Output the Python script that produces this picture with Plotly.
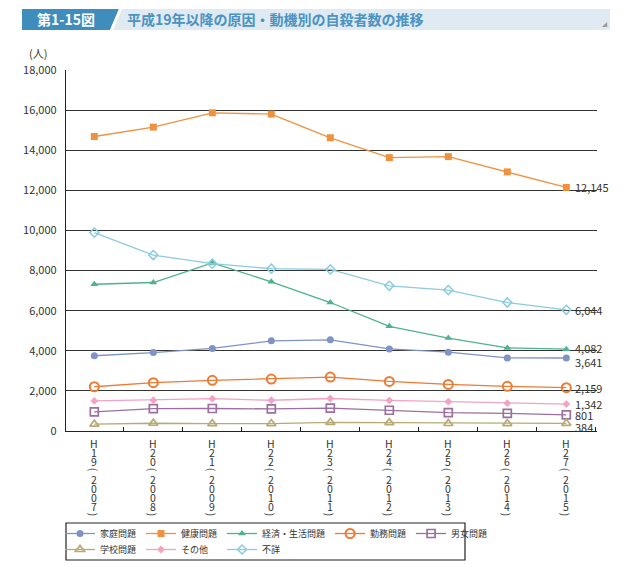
import plotly.graph_objects as go

# ---------------- data ----------------
years = ["H19(2007)", "H20(2008)", "H21(2009)", "H22(2010)", "H23(2011)",
         "H24(2012)", "H25(2013)", "H26(2014)", "H27(2015)"]

katei   = [3751, 3912, 4117, 4497, 4547, 4091, 3930, 3644, 3641]
kenko   = [14684, 15153, 15867, 15802, 14621, 13629, 13680, 12920, 12145]
keizai  = [7318, 7404, 8377, 7438, 6406, 5219, 4636, 4144, 4082]
kinmu   = [2207, 2412, 2528, 2590, 2689, 2472, 2323, 2227, 2159]
danjo   = [949, 1115, 1121, 1103, 1138, 1035, 912, 875, 801]
gakko   = [338, 387, 364, 371, 429, 417, 375, 372, 384]
sonota  = [1500, 1538, 1613, 1533, 1621, 1524, 1462, 1386, 1342]
fusho   = [9892, 8774, 8341, 8092, 8056, 7239, 7029, 6405, 6044]

series_names = ["家庭問題", "健康問題", "経済・生活問題", "勤務問題", "男女問題",
                "学校問題", "その他", "不詳"]
series_vals = [katei, kenko, keizai, kinmu, danjo, gakko, sonota, fusho]

y_ticks = [0, 2000, 4000, 6000, 8000, 10000, 12000, 14000, 16000, 18000]

# ---------------- styles ----------------
FONT = "Noto Sans CJK JP"
styles = [
    dict(color="#7f93c6", symbol="circle", size=7, open=False),
    dict(color="#ef9240", symbol="square", size=7, open=False),
    dict(color="#4db38e", symbol="triangle-up", size=7, open=False),
    dict(color="#ee7a34", symbol="circle-open", size=9, open=True, lw=2.0),
    dict(color="#9b6f9f", symbol="square-open", size=8, open=True, lw=1.7),
    dict(color="#b8aa72", symbol="triangle-up-open", size=8, open=True, lw=1.7),
    dict(color="#f2a3c3", symbol="diamond", size=6, open=False),
    dict(color="#8ccbe0", symbol="diamond-open", size=7, open=True, lw=1.5),
]
legend_names = ["家庭問題", "健康問題", "経済・生活問題", "勤務問題", "男女問題",
                "学校問題", "その他\u3000", "不詳"]
end_yshift = {"家庭問題": -4, "学校問題": -4, "経済・生活問題": 1}

# plot-area pixel geometry
W, H = 640, 565
L, R, T, B = 66, 43, 70, 134
PW, PH = W - L - R, H - T - B


def PX(px):
    return (px - L) / PW


def PY(py):
    return (H - B - py) / PH


fig = go.Figure()
for i, (name, vals, st) in enumerate(zip(series_names, series_vals, styles)):
    mk = dict(symbol=st["symbol"], size=st["size"], color=st["color"])
    if st["open"]:
        mk["line"] = dict(color=st["color"], width=st["lw"])
    fig.add_trace(go.Scatter(
        x=years, y=vals, mode="lines+markers", name=legend_names[i],
        line=dict(color=st["color"], width=1.3),
        marker=mk,
        legend="legend" if i < 5 else "legend2",
        cliponaxis=False,
    ))

annotations = []
# end value labels
for name, vals in zip(series_names, series_vals):
    annotations.append(dict(
        x=years[-1], y=vals[-1], xref="x", yref="y",
        text=f"{vals[-1]:,}", showarrow=False, xanchor="left", yanchor="middle",
        xshift=7, yshift=end_yshift.get(name, 0),
        font=dict(family=FONT, size=11, color="#333333"),
    ))

# vertical x tick labels (one character per line)
for yr in years:
    for j, ch in enumerate(yr):
        ang = 90 if ch in "()" else 0
        annotations.append(dict(
            x=yr, y=0, xref="x", yref="paper", text=ch, showarrow=False,
            xanchor="center", yanchor="middle", yshift=-(12 + 9 * j),
            textangle=ang,
            font=dict(family=FONT, size=10.5, color="#333333"),
        ))

# unit label
annotations.append(dict(x=PX(38), y=PY(53), xref="paper", yref="paper", text="(人)",
                        showarrow=False, xanchor="center", yanchor="middle",
                        font=dict(family=FONT, size=11, color="#333333")))

# title
annotations.append(dict(x=PX(66), y=PY(19.5), xref="paper", yref="paper", text="<b>第1-15図</b>",
                        showarrow=False, xanchor="center", yanchor="middle",
                        font=dict(family=FONT, size=14, color="white")))
annotations.append(dict(x=PX(125), y=PY(19.5), xref="paper", yref="paper",
                        text="<b>平成19年以降の原因・動機別の自殺者数の推移</b>",
                        showarrow=False, xanchor="left", yanchor="middle",
                        font=dict(family=FONT, size=14, color="#4a93c2")))
annotations.append(dict(x=PX(604), y=PY(24), xref="paper", yref="paper", text="◢",
                        showarrow=False, xanchor="center", yanchor="middle",
                        font=dict(family=FONT, size=5, color="#999999")))

shapes = [
    dict(type="rect", xref="paper", yref="paper", x0=PX(22), x1=PX(610), y0=PY(30), y1=PY(9),
         fillcolor="#e0eaf2", line=dict(width=0), layer="below"),
    dict(type="path", xref="paper", yref="paper",
         path=f"M {PX(22)},{PY(9)} L {PX(119)},{PY(9)} L {PX(110)},{PY(30)} L {PX(22)},{PY(30)} Z",
         fillcolor="#3e8dbd", line=dict(width=0), layer="below"),
    dict(type="path", xref="paper", yref="paper",
         path=f"M {PX(119)},{PY(9)} L {PX(122)},{PY(9)} L {PX(113)},{PY(30)} L {PX(110)},{PY(30)} Z",
         fillcolor="white", line=dict(width=0), layer="below"),
    dict(type="rect", xref="paper", yref="paper", x0=PX(66), x1=PX(465), y0=PY(560), y1=PY(523),
         fillcolor="rgba(0,0,0,0)", line=dict(color="#222222", width=1.2)),
]

leg_common = dict(orientation="h", xanchor="left", yanchor="top",
                  font=dict(family=FONT, size=9, color="#333333"),
                  bgcolor="rgba(0,0,0,0)", itemwidth=30, tracegroupgap=0)

fig.update_layout(
    width=W, height=H,
    margin=dict(l=L, r=R, t=T, b=B, autoexpand=False),
    paper_bgcolor="white", plot_bgcolor="white",
    font=dict(family=FONT, size=11, color="#333333"),
    showlegend=True,
    legend=dict(x=PX(60), y=PY(519), **leg_common),
    legend2=dict(x=PX(60), y=PY(535), **leg_common),
    xaxis=dict(type="category", range=[-0.48, 8.52], showticklabels=False,
               showline=True, linecolor="#222222", linewidth=1.2,
               ticks="inside", ticklen=4, tickcolor="#222222", tickson="boundaries",
               showgrid=False, zeroline=False, fixedrange=True),
    yaxis=dict(range=[0, 18000], tickvals=y_ticks, tickformat=",",
               showline=True, linecolor="#222222", linewidth=1.2,
               showgrid=True, gridcolor="#333333", gridwidth=1.4,
               ticks="", ticklabelstandoff=6, zeroline=False,
               tickfont=dict(family=FONT, size=11, color="#333333"), fixedrange=True),
    annotations=annotations,
    shapes=shapes,
)

fig.write_html("out.html")
